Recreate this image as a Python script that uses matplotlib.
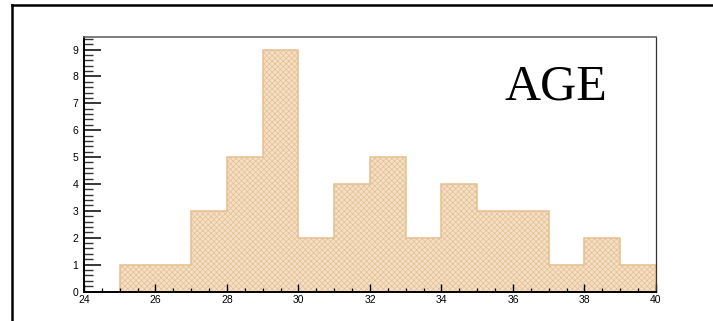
import matplotlib.pyplot as plt
import numpy as np
from matplotlib.lines import Line2D
from matplotlib.ticker import MultipleLocator

# histogram of AGE, 1-year bins from 25 to 40
bin_edges = [25, 26, 27, 28, 29, 30, 31, 32, 33, 34, 35, 36, 37, 38, 39, 40]
counts = [1, 1, 3, 5, 9, 2, 4, 5, 2, 4, 3, 3, 1, 2, 1]

fill_color = '#f4e0c6'
line_color = '#e6bf90'

plt.rcParams['font.family'] = ['Liberation Sans', 'DejaVu Sans']
plt.rcParams['hatch.linewidth'] = 0.5

fig = plt.figure(figsize=(7.13, 3.21), dpi=100)
ax = fig.add_axes([0.1178, 0.0919, 0.8022, 0.7913])

# filled bars with fine checker-like pattern, then step outline
ax.stairs(counts, bin_edges, fill=True, facecolor=fill_color,
          edgecolor=line_color, hatch='xxxxxx', linewidth=0)
ax.stairs(counts, bin_edges, baseline=0, color=line_color, linewidth=1.1)

ax.set_xlim(24, 40)
ax.set_ylim(0, max(counts) * 1.05)

ax.xaxis.set_major_locator(MultipleLocator(2))
ax.xaxis.set_minor_locator(MultipleLocator(0.5))
ax.yaxis.set_major_locator(MultipleLocator(1))
ax.yaxis.set_minor_locator(MultipleLocator(0.2))

ax.tick_params(axis='both', which='both', direction='in', labelsize=7.5,
               top=False, right=False, color='black')
ax.tick_params(axis='y', which='major', length=12, width=1.1, pad=4)
ax.tick_params(axis='y', which='minor', length=6.5, width=1.0, color='#333333')
ax.tick_params(axis='x', which='major', length=5.5, width=1.0, pad=2.5)
ax.tick_params(axis='x', which='minor', length=3, width=0.9)

for side in ['left', 'bottom']:
    ax.spines[side].set_linewidth(1.4)
    ax.spines[side].set_color('black')
ax.spines['top'].set_color('#666666')
ax.spines['top'].set_linewidth(1.2)
ax.spines['right'].set_color('#333333')
ax.spines['right'].set_linewidth(0.9)

ax.text(0.825, 0.805, 'AGE', transform=ax.transAxes, ha='center', va='center',
        fontsize=36, family=['Liberation Serif', 'DejaVu Serif'])

# outer canvas border (partially cropped)
fig.add_artist(Line2D([12 / 713, 1], [1 - 5 / 321, 1 - 5 / 321],
                      color='black', linewidth=1.8, transform=fig.transFigure))
fig.add_artist(Line2D([12 / 713, 12 / 713], [0, 1 - 5 / 321],
                      color='black', linewidth=1.8, transform=fig.transFigure))

fig.savefig('out.png', dpi=100)
